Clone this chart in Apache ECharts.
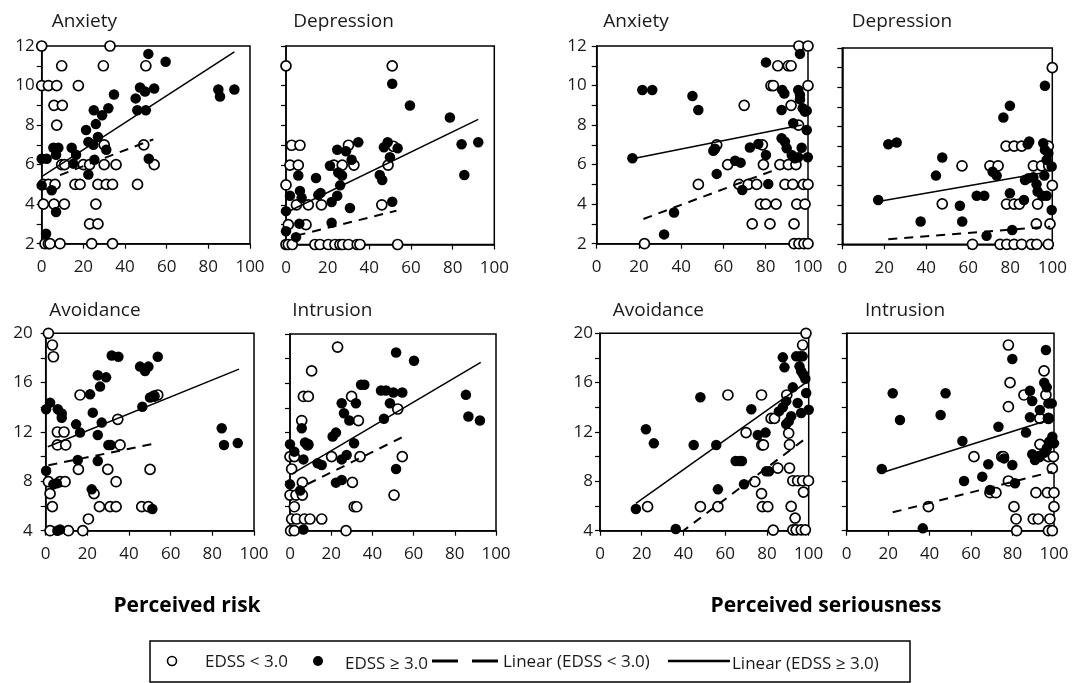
<!DOCTYPE html>
<html><head><meta charset="utf-8">
<script src="https://cdn.jsdelivr.net/npm/echarts@6/dist/echarts.min.js"></script>
<style>html,body{margin:0;padding:0;background:#fff}#c{width:1074px;height:683px}</style>
</head><body><div id="c"></div><script>
const panelTitles = ['Anxiety','Depression','Anxiety','Depression','Avoidance','Intrusion','Avoidance','Intrusion'];
const groupTitles = ['Perceived risk','Perceived seriousness'];
const legendLabels = ['EDSS < 3.0','EDSS \u2265 3.0','Linear (EDSS < 3.0)','Linear (EDSS \u2265 3.0)'];
const xTickRange = [0, 100, 20];
const topYRange = [2, 12, 1];
const bottomYRange = [4, 20, 2];

// Perceived risk - Anxiety
const riskAnxietyLow = [[0,12],[32.8,12],[9.6,11],[29.6,11],[50,11],[0,10],[3.2,10],[7.2,10],[17.6,10],[5.9,9],[9.9,9],[7.2,8],[49,7],[30,7],[9.6,6],[11,6],[20,6],[23,6],[30,6],[35.7,6],[54,6],[0.8,5],[3.2,5],[6.4,5],[16,5],[18.4,5],[27,5],[31,5],[34,5],[46,5],[0.8,4],[5.9,4],[10.9,4],[26,4],[23,3],[27,3],[1.6,2],[3.2,2],[4,2],[8.8,2],[24,2],[34,2]];
const riskAnxietyHigh = [[51.2,11.6],[59.5,11.2],[84.8,9.8],[85.6,9.45],[92.5,9.8],[47.2,9.9],[49.6,9.7],[54,9.85],[34.7,9.55],[45.1,9.35],[45.9,8.75],[50,8.75],[25,8.75],[29,8.5],[32,8.85],[26,8.05],[21.3,7.75],[27,7.4],[22.4,7.15],[24.8,7],[31,6.75],[51.4,6.3],[5.6,6.85],[8,6.85],[14.4,6.85],[0,6.3],[2.4,6.3],[6.9,6.5],[16.5,6.5],[15.2,6.05],[25.3,6.25],[22.4,5.5],[0,4.95],[4.8,4.7],[6.9,3.6],[2.1,2.5]];
const riskAnxietyFitLow = [[8.8,5.47],[53.6,7.28]];
const riskAnxietyFitHigh = [[0,5.39],[92.5,11.7]];

// Perceived risk - Depression
const riskDepressionLow = [[0,11],[51,11],[2.7,7],[6.7,7],[30,7],[51.5,6.95],[1.9,6],[5.9,6],[23,6],[27,6],[32.6,6],[49,6],[0,5],[5,4],[10.7,4],[17,4],[46,4],[1.1,3],[9.6,3],[0,2],[1.1,2],[3,2],[13.9,2],[16.3,2],[20.3,2],[23.5,2],[25.9,2],[27.2,2],[30,2],[34.2,2],[35.5,2],[53.6,2]];
const riskDepressionHigh = [[51,10.1],[59.5,9],[78.7,8.4],[84.3,7.05],[92.3,7.15],[85.6,5.5],[34.7,7.15],[48.8,7.15],[47,6.9],[53.6,6.85],[49.9,6.4],[45,5.5],[46.2,5.25],[51,4.15],[24.6,6.77],[28.8,6.7],[31.5,6.27],[21.1,5.97],[25.1,5.63],[26.9,5.48],[26,4.98],[24.6,4.46],[21.9,4.14],[30.7,3.84],[21.9,3.1],[14.4,5.35],[15.5,4.5],[16.6,4.6],[5.9,5.48],[6.7,4.7],[7.5,4.35],[1.9,4.46],[0,3.68],[0,2.67],[4.8,2.37],[6.4,3.05]];
const riskDepressionFitLow = [[5.1,2.45],[53,3.7]];
const riskDepressionFitHigh = [[1.9,3.7],[92.3,8.3]];

// Perceived seriousness - Anxiety
const seriousAnxietyLow = [[22.6,2],[48.1,5],[69.8,9],[56.8,7],[62,6],[67.4,5],[71.7,5],[75.7,5],[78.4,7],[78.9,6],[77.5,4],[80,4],[84.9,4],[73.6,3],[82,3],[93.4,3],[82.5,10],[83.6,10],[85.7,11],[90.7,11],[92,11],[92,9],[86.7,6],[90.7,6],[94.3,6],[89.1,5],[92.8,5],[97.8,5],[100,5],[94.7,4],[98.6,4],[95.7,12],[100,12],[100,10],[95.5,8],[93.4,2],[95.7,2],[98.1,2],[100,2]];
const seriousAnxietyHigh = [[16.9,6.32],[21.6,9.77],[26.3,9.77],[45.3,9.47],[48.1,8.76],[36.6,3.58],[31.9,2.47],[55.2,6.7],[56,6.8],[56.8,5.53],[65.5,6.2],[68.1,6.1],[68.9,4.72],[72.5,6.87],[76.5,7.04],[80.1,11.17],[80.1,6.49],[81.2,5.02],[87.8,9.77],[88.8,9.6],[95.4,9.77],[96.2,9.52],[96.2,9.3],[87.5,8.76],[97.5,8.85],[98.6,8.68],[99.4,8.73],[93,8.09],[99.4,7.75],[87.5,7.33],[89.1,7.16],[89.9,6.83],[97,6.85],[92.3,6.49],[93.8,6.32],[95.4,6.37],[99.9,6.37],[96.2,11.6]];
const seriousAnxietyFitLow = [[22.1,3.25],[86,5.8]];
const seriousAnxietyFitHigh = [[16.9,6.3],[97,8.0]];

// Perceived seriousness - Depression
const seriousDepressionLow = [[100,11],[57,6],[70.3,6],[74.2,6],[47.6,4.06],[62,2],[78,7],[81.8,7],[85.4,7],[78.2,4.05],[81.8,4.05],[84.3,4.05],[93,4.05],[75.1,2],[78.3,2],[81.8,2],[85.4,2],[90,2],[92.6,2],[98.1,2],[91,6],[94.9,6],[98.3,6],[100,5],[92.4,3.04],[98.9,3.04],[98.1,7]];
const seriousDepressionHigh = [[17.1,4.26],[21.9,7.1],[25.9,7.19],[37.3,3.16],[44.6,5.5],[47.6,6.42],[56,3.96],[57.1,3.16],[64,4.47],[67.6,4.47],[68.7,2.43],[71.6,5.7],[73.5,5.5],[76.7,8.46],[79.8,9.06],[79.8,4.6],[80.9,2.73],[86.5,4.26],[87,5.28],[88.6,5.37],[91,5.42],[88.3,7.1],[89,7.24],[92.5,5.06],[93,4.69],[95.2,4.47],[96.5,10.08],[95.7,7.15],[96.5,6.81],[98.1,6.64],[97.3,6.3],[99.7,5.96],[96.2,5.5],[99.7,3.75],[97.3,4.47]];
const seriousDepressionFitLow = [[21.9,2.26],[99,2.9]];
const seriousDepressionFitHigh = [[17.1,4.18],[96.5,5.66]];

// Perceived risk - Avoidance
const riskAvoidanceLow = [[1.3,20],[3.2,19.05],[3.7,18.1],[16.5,15],[53.8,15],[52,14.9],[34.6,13.03],[5.6,12],[8.8,12],[5.6,10.95],[9.6,10.95],[35.7,10.95],[15.7,8.97],[29.8,8.97],[50.1,8.97],[1.3,7.97],[6.9,7.97],[9.3,7.97],[33.8,7.97],[2.1,7],[23.2,7],[3.2,5.95],[25.8,5.95],[30.9,5.95],[33.8,5.95],[46.1,5.95],[49.3,5.95],[20.5,4.95],[2.1,4],[10.9,4],[17.8,4]];
const riskAvoidanceHigh = [[0.2,13.84],[2.1,14.38],[5.8,13.84],[7.7,13.5],[7.7,13.16],[14.6,12.62],[16.5,11.95],[21.3,15.05],[22.6,13.57],[25,16.6],[26.1,15.68],[29,16.43],[25,11.76],[26.9,12.76],[30.1,10.95],[31.2,10.95],[31.7,18.2],[34.9,18.1],[45.3,17.3],[47.7,16.95],[49.3,17.3],[53.8,18.1],[46.4,14.05],[50.1,14.8],[51.7,14.86],[84.5,12.3],[85.6,10.95],[92.2,11.1],[15.4,9.73],[25,9.65],[0.2,8.86],[3.7,7.76],[5.3,7.84],[22.1,7.35],[6.9,4.1],[5.6,4],[51.2,5.76]];
const riskAvoidanceFitLow = [[1.3,9.3],[53.3,11.1]];
const riskAvoidanceFitHigh = [[1,10.8],[92.8,17.1]];

// Perceived risk - Intrusion
const riskIntrusionLow = [[23.1,18.94],[10.5,17],[6.5,14.92],[8.9,14.92],[29.9,14.92],[5.7,12.96],[33.2,12.96],[52.3,13.9],[8.6,10.98],[0,10.03],[2.1,10.03],[20.2,10.03],[34,10.03],[54.5,10.03],[0.8,9.02],[6,7.93],[30.3,7.93],[0,6.9],[2.9,6.9],[6,6.9],[50.5,6.9],[2.1,5.95],[31.2,5.95],[32.4,5.95],[0.8,4.95],[3.2,4.95],[7,4.95],[9.7,4.95],[15.4,4.95],[0.3,4],[2.1,4],[27.2,4]];
const riskIntrusionHigh = [[51.5,18.5],[60.2,17.83],[34.5,15.87],[36.1,15.87],[44.2,15.4],[46.6,15.4],[50.2,15.24],[54.5,15.24],[25.1,14.37],[32,14.37],[48.5,14.37],[26.2,13.56],[28.8,12.96],[45.6,13.1],[5.7,12.34],[20.7,11.66],[22.3,11.98],[7.3,11.17],[8.9,11.03],[31.1,11.11],[0,11.03],[2.1,10.43],[6.5,9.8],[13.4,9.48],[15.4,9.35],[25.1,9.8],[27.5,10.16],[51.5,9.02],[22.3,7.91],[25.1,8.13],[0,7.77],[4.9,7.26],[6.5,4.1],[85.4,15.05],[86.6,13.29],[92.2,12.96]];
const riskIntrusionFitLow = [[8.6,7.8],[54.2,11.58]];
const riskIntrusionFitHigh = [[0.8,8.6],[92.6,17.7]];

// Perceived seriousness - Avoidance
const seriousAvoidanceLow = [[22.8,5.95],[48.1,5.95],[56.5,5.95],[61.3,15],[77.4,15],[70,11.95],[74.2,7.97],[77.4,7],[77.8,5.95],[80.4,5.95],[77.5,10.95],[78.3,10.95],[83,4.05],[82,13.1],[83.6,13.1],[85.2,9.08],[98.7,20],[97.1,19.05],[89.5,15],[90.4,11.9],[90.8,10.97],[90.8,9.08],[92.4,8.05],[94.7,8.05],[97.1,8.05],[99.9,8.05],[97.5,7.13],[91.6,5.97],[93.5,5.02],[92.4,4.07],[94,4.07],[96.4,4.07],[98.4,4.07]];
const seriousAvoidanceHigh = [[17.2,5.76],[22,12.22],[25.8,11.08],[36.3,4.14],[44.9,10.95],[48.1,14.81],[55.7,10.95],[56.5,7.35],[65,9.65],[66.9,9.65],[68,9.65],[69,7.76],[72.5,13.84],[75.6,11.76],[79.3,11.95],[79.6,8.81],[81,8.81],[87.6,18.05],[88.4,17.24],[94,18.13],[95.9,18.13],[97.1,18.13],[95.6,17.32],[96.4,16.92],[97.5,16.64],[98.4,16.32],[98.8,15.16],[92.4,15.62],[94.7,14.35],[89.2,14.5],[87.6,14],[85.7,13.67],[96.4,13.54],[100,13.8],[91.6,13.27],[89.2,12.64],[90.4,12.86]];
const seriousAvoidanceFitLow = [[38.8,3.85],[99.5,11.6]];
const seriousAvoidanceFitHigh = [[17.2,6.22],[99,16.05]];

// Perceived seriousness - Intrusion
const seriousIntrusionLow = [[39.4,5.95],[61.4,10],[74.8,10],[75.6,10],[69.1,7.08],[72,7.08],[78,19.05],[78.8,16],[78,14.05],[85.5,15],[78,8.03],[80.7,5.95],[81.7,4.95],[82,4],[90,4.95],[92.4,4.95],[91.3,7.08],[93.2,11],[92.9,10],[95.2,16.95],[96.1,15],[93.2,13.1],[97.3,13.1],[97.3,10],[99.7,10],[96.8,7.08],[100,7.08],[99.2,9.05],[100,5.95],[98,4.95],[97.3,4],[99.2,4]];
const seriousIntrusionHigh = [[16.9,9],[22.2,15.14],[25.7,12.97],[47.7,15.14],[45.3,13.38],[36.7,4.19],[55.8,11.27],[56.6,8.03],[65.4,8.38],[68.3,9.38],[69.1,7.3],[73.2,12.43],[75.9,9.86],[79.9,9.32],[81.2,7.84],[79.9,17.92],[88.4,15.35],[89.5,14.51],[88.4,13.19],[86.5,11.95],[89.5,10.19],[90.8,9.73],[92.4,10],[96.1,18.65],[95.3,16],[96.5,15.62],[93.2,13.78],[97.3,14.32],[98.9,14.32],[97.3,13.1],[95.2,10.32],[97.7,11.22],[99.2,11.62],[100,11.08],[96.5,10.68]];
const seriousIntrusionFitLow = [[22.2,5.49],[99.2,8.78]];
const seriousIntrusionFitHigh = [[16.9,8.7],[99.7,13.1]];

const FONT = '"Open Sans", "DejaVu Sans", sans-serif';
const TXT = '#1a1a1a';

const panels = [
  {title: panelTitles[0], low: riskAnxietyLow, high: riskAnxietyHigh, fitLow: riskAnxietyFitLow, fitHigh: riskAnxietyFitHigh, y: topYRange, labelEvery: 2, showY: true, yMargin: 7, box: [41.7, 46, 208.3, 197.7], titleX: 51.7, titleY: 22},
  {title: panelTitles[1], low: riskDepressionLow, high: riskDepressionHigh, fitLow: riskDepressionFitLow, fitHigh: riskDepressionFitHigh, y: topYRange, labelEvery: 2, showY: false, yMargin: 7, box: [286, 46, 208.3, 198.5], titleX: 293.3, titleY: 22},
  {title: panelTitles[2], low: seriousAnxietyLow, high: seriousAnxietyHigh, fitLow: seriousAnxietyFitLow, fitHigh: seriousAnxietyFitHigh, y: topYRange, labelEvery: 2, showY: true, yMargin: 10, box: [596.7, 46, 211.3, 197.7], titleX: 603.3, titleY: 22},
  {title: panelTitles[3], low: seriousDepressionLow, high: seriousDepressionHigh, fitLow: seriousDepressionFitLow, fitHigh: seriousDepressionFitHigh, y: topYRange, labelEvery: 2, showY: false, yMargin: 7, box: [842.3, 48, 210, 196.3], titleX: 851.7, titleY: 22},
  {title: panelTitles[4], low: riskAvoidanceLow, high: riskAvoidanceHigh, fitLow: riskAvoidanceFitLow, fitHigh: riskAvoidanceFitHigh, y: bottomYRange, labelEvery: 4, showY: true, yMargin: 13, box: [45.7, 333.3, 208.3, 197.4], titleX: 49.3, titleY: 311},
  {title: panelTitles[5], low: riskIntrusionLow, high: riskIntrusionHigh, fitLow: riskIntrusionFitLow, fitHigh: riskIntrusionFitHigh, y: bottomYRange, labelEvery: 4, showY: false, yMargin: 7, box: [290, 334, 206, 196.7], titleX: 292.3, titleY: 311},
  {title: panelTitles[6], low: seriousAvoidanceLow, high: seriousAvoidanceHigh, fitLow: seriousAvoidanceFitLow, fitHigh: seriousAvoidanceFitHigh, y: bottomYRange, labelEvery: 4, showY: true, yMargin: 7, box: [600, 333.3, 208.7, 197.4], titleX: 612.7, titleY: 311},
  {title: panelTitles[7], low: seriousIntrusionLow, high: seriousIntrusionHigh, fitLow: seriousIntrusionFitLow, fitHigh: seriousIntrusionFitHigh, y: bottomYRange, labelEvery: 4, showY: false, yMargin: 7, box: [846.7, 333.3, 207.3, 197.4], titleX: 865, titleY: 311}
];

const grid = [], xAxis = [], yAxis = [], series = [], graphic = [];
panels.forEach((p, i) => {
  grid.push({left: p.box[0], top: p.box[1], width: p.box[2], height: p.box[3], show: true, borderColor: '#000', borderWidth: 1.5, backgroundColor: 'transparent', containLabel: false});
  xAxis.push({type: 'value', gridIndex: i, min: xTickRange[0], max: xTickRange[1], interval: xTickRange[2],
    axisLine: {show: true, onZero: false, lineStyle: {color: '#000', width: 1.5}},
    axisTick: {show: true, length: 5, lineStyle: {color: '#000', width: 1.2}},
    axisLabel: {show: true, margin: 15, fontSize: 17, fontFamily: FONT, color: TXT},
    splitLine: {show: false}});
  const every = p.labelEvery;
  yAxis.push({type: 'value', gridIndex: i, min: p.y[0], max: p.y[1], interval: p.y[2],
    axisLine: {show: true, onZero: false, lineStyle: {color: '#000', width: 1.5}},
    axisTick: {show: true, length: 5, lineStyle: {color: '#000', width: 1.2}},
    axisLabel: {show: p.showY, margin: p.yMargin, fontSize: 17, fontFamily: FONT, color: TXT,
      formatter: v => (v % every === 0 ? String(v) : '')},
    splitLine: {show: false}});
  series.push({type: 'scatter', xAxisIndex: i, yAxisIndex: i, data: p.low, symbol: 'circle', symbolSize: 10,
    itemStyle: {color: '#fff', borderColor: '#000', borderWidth: 1.7, opacity: 1}, z: 2, silent: true, animation: false});
  series.push({type: 'scatter', xAxisIndex: i, yAxisIndex: i, data: p.high, symbol: 'circle', symbolSize: 10.5,
    itemStyle: {color: '#000', borderColor: '#000', borderWidth: 0, opacity: 1}, z: 3, silent: true, animation: false});
  series.push({type: 'line', xAxisIndex: i, yAxisIndex: i, data: p.fitLow, symbol: 'none', showSymbol: false,
    lineStyle: {color: '#000', width: 2, type: [9, 7]}, z: 4, silent: true, animation: false});
  series.push({type: 'line', xAxisIndex: i, yAxisIndex: i, data: p.fitHigh, symbol: 'none', showSymbol: false,
    lineStyle: {color: '#000', width: 1.5, type: 'solid'}, z: 4, silent: true, animation: false});
  graphic.push({type: 'text', x: p.titleX, y: p.titleY, silent: true,
    style: {text: p.title, font: '19px ' + FONT, fill: TXT, align: 'left', verticalAlign: 'middle'}});
});

graphic.push({type: 'text', x: 187, y: 606, silent: true, style: {text: groupTitles[0], font: 'bold 21px ' + FONT, fill: '#000', align: 'center', verticalAlign: 'middle'}});
graphic.push({type: 'text', x: 826, y: 606, silent: true, style: {text: groupTitles[1], font: 'bold 21px ' + FONT, fill: '#000', align: 'center', verticalAlign: 'middle'}});

// legend
const LF = '17px ' + FONT;
graphic.push({type: 'rect', silent: true, shape: {x: 150, y: 641, width: 760, height: 41}, style: {fill: 'none', stroke: '#000', lineWidth: 1.5}});
graphic.push({type: 'circle', silent: true, shape: {cx: 172, cy: 661, r: 4.5}, style: {fill: '#fff', stroke: '#000', lineWidth: 1.6}});
graphic.push({type: 'text', x: 205, y: 662, silent: true, style: {text: legendLabels[0], font: LF, fill: TXT, align: 'left', verticalAlign: 'middle'}});
graphic.push({type: 'circle', silent: true, shape: {cx: 318, cy: 661, r: 5}, style: {fill: '#000', stroke: '#000', lineWidth: 0}});
graphic.push({type: 'text', x: 345, y: 664, silent: true, style: {text: legendLabels[1], font: LF, fill: TXT, align: 'left', verticalAlign: 'middle'}});
graphic.push({type: 'line', silent: true, shape: {x1: 432, y1: 661, x2: 498, y2: 661}, style: {stroke: '#000', lineWidth: 3, lineDash: [26, 14]}});
graphic.push({type: 'text', x: 503, y: 662, silent: true, style: {text: legendLabels[2], font: LF, fill: TXT, align: 'left', verticalAlign: 'middle'}});
graphic.push({type: 'line', silent: true, shape: {x1: 668, y1: 661, x2: 730, y2: 661}, style: {stroke: '#000', lineWidth: 2.5}});
graphic.push({type: 'text', x: 732, y: 664, silent: true, style: {text: legendLabels[3], font: LF, fill: TXT, align: 'left', verticalAlign: 'middle'}});

const chart = echarts.init(document.getElementById('c'), null, {renderer: 'canvas'});
chart.setOption({backgroundColor: '#fff', animation: false, grid, xAxis, yAxis, series, graphic});
</script></body></html>
